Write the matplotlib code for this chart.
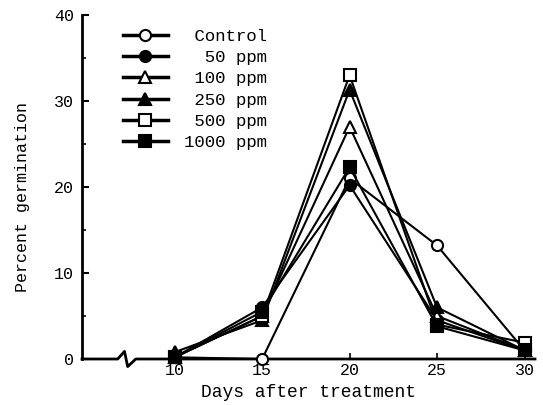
import matplotlib
matplotlib.use("Agg")
import matplotlib.pyplot as plt
from matplotlib.lines import Line2D

days = [10, 15, 20, 25, 30]
labels = [" Control", "  50 ppm", " 100 ppm", " 250 ppm", " 500 ppm", "1000 ppm"]
control = [0.2, 0.0, 21.0, 13.2, 1.0]
ppm50 = [0.2, 6.0, 20.2, 4.5, 1.0]
ppm100 = [0.2, 5.0, 27.0, 5.0, 1.0]
ppm250 = [0.8, 4.5, 31.3, 6.0, 1.0]
ppm500 = [0.2, 5.0, 33.0, 4.0, 1.9]
ppm1000 = [0.2, 5.5, 22.3, 3.8, 1.0]

series = [control, ppm50, ppm100, ppm250, ppm500, ppm1000]
markers = ["o", "o", "^", "^", "s", "s"]
fills = ["white", "black", "white", "black", "white", "black"]

font = "Liberation Mono"
fig = plt.figure(figsize=(5.43, 4.05), dpi=100)
ax = fig.add_axes([82/543, (405-359)/405, (535-82)/543, (359-15)/405])

for vals, m, fc, lab in zip(series, markers, fills, labels):
    ax.plot(days, vals, color="black", lw=1.5, marker=m, markersize=8,
            markerfacecolor=fc, markeredgecolor="black", markeredgewidth=1.5,
            label=lab, clip_on=False, zorder=3)

ax.set_xlim(4.7, 30.6)
ax.set_ylim(0, 40)
ax.set_xticks(days)
ax.set_yticks([0, 10, 20, 30, 40])
ax.set_yticks([5, 15, 25, 35], minor=True)
ax.tick_params(axis="y", which="major", direction="in", length=5, width=1.5, labelsize=12, pad=6)
ax.tick_params(axis="y", which="minor", direction="in", length=3, width=1.2)
ax.tick_params(axis="x", which="major", direction="in", length=4, width=1.2, labelsize=12, pad=3)
for t in ax.get_xticklabels() + ax.get_yticklabels():
    t.set_fontfamily(font)

for s in ["top", "right", "bottom"]:
    ax.spines[s].set_visible(False)
ax.spines["left"].set_linewidth(2)

# x axis with break
bx = (7.0 - 4.7) / (30.6 - 4.7)
dy = 0.022
xs = [0.0, bx - 0.01, bx + 0.005, bx + 0.012, bx + 0.03, 1.0]
ys = [0, 0, dy, -dy, 0, 0]
ax.add_line(Line2D(xs, ys, transform=ax.transAxes, color="black", lw=2, clip_on=False))

ax.set_xlabel("Days after treatment", fontfamily=font, fontsize=13, labelpad=4)
ax.set_ylabel("Percent germination", fontfamily=font, fontsize=12)
ax.yaxis.set_label_coords(-0.115, 0.47)

leg = ax.legend(loc="upper left", bbox_to_anchor=(0.075, 0.98), frameon=False,
                prop={"family": font, "size": 12.5}, handlelength=2.6, handletextpad=0.9,
                labelspacing=0.35, borderaxespad=0)
for h in leg.get_lines():
    h.set_linewidth(2.5)

fig.savefig("out.png", dpi=100)
